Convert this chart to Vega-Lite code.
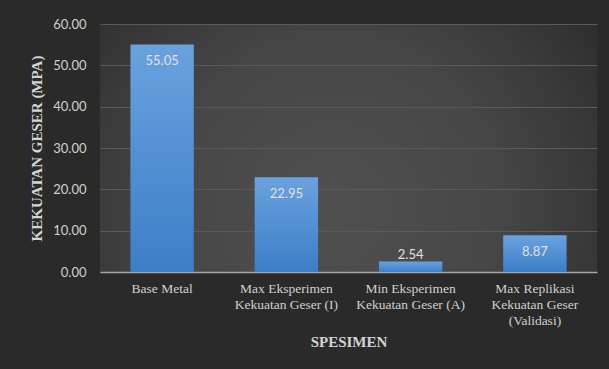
{
  "$schema": "https://vega.github.io/schema/vega-lite/v6.json",
  "width": 497,
  "height": 248,
  "autosize": {"type": "none"},
  "padding": {"left": 100, "top": 24, "right": 12, "bottom": 97},
  "background": "#2a2a2a",
  "config": {
    "view": {
      "stroke": null,
      "fill": {
        "gradient": "radial",
        "x1": 0.47, "y1": 0.62, "r1": 0,
        "x2": 0.47, "y2": 0.62, "r2": 0.65,
        "stops": [
          {"offset": 0, "color": "#505050"},
          {"offset": 0.5, "color": "#474747"},
          {"offset": 1, "color": "#2e2e2e"}
        ]
      }
    }
  },
  "data": {
    "values": [
      {"spesimen": "Base Metal", "kekuatan": 55.05},
      {"spesimen": "Max Eksperimen Kekuatan Geser (I)", "kekuatan": 22.95},
      {"spesimen": "Min Eksperimen Kekuatan Geser (A)", "kekuatan": 2.54},
      {"spesimen": "Max Replikasi Kekuatan Geser (Validasi)", "kekuatan": 8.87}
    ]
  },
  "encoding": {
    "x": {
      "field": "spesimen",
      "type": "nominal",
      "sort": null,
      "scale": {"paddingInner": 0.49, "paddingOuter": 0.245},
      "axis": {
        "title": "SPESIMEN",
        "titleFont": "Liberation Serif",
        "titleFontSize": 15,
        "titleFontWeight": "bold",
        "titleColor": "#d4d4d4",
        "titlePadding": 8,
        "labelFont": "Liberation Serif",
        "labelFontSize": 13.5,
        "labelColor": "#d0d0d0",
        "labelAngle": 0,
        "labelPadding": 9,
        "labelLineHeight": 16,
        "labelExpr": "split(replace(replace(datum.value, ' Kekuatan', '|Kekuatan'), ' (Validasi)', '|(Validasi)'), '|')",
        "ticks": false,
        "domainColor": "#a6a6a6",
        "domainWidth": 1.5,
        "grid": false
      }
    },
    "y": {
      "field": "kekuatan",
      "type": "quantitative",
      "scale": {"domain": [0, 60]},
      "axis": {
        "title": "KEKUATAN GESER (MPA)",
        "titleFont": "Liberation Serif",
        "titleFontSize": 15,
        "titleFontWeight": "bold",
        "titleColor": "#d4d4d4",
        "titlePadding": 8,
        "values": [0, 10, 20, 30, 40, 50, 60],
        "format": ".2f",
        "labelFont": "Lato",
        "labelFontSize": 13,
        "labelColor": "#d0d0d0",
        "labelPadding": 14,
        "ticks": false,
        "domain": false,
        "grid": true,
        "gridColor": "#5a5a5a",
        "gridWidth": 1
      }
    }
  },
  "layer": [
    {
      "mark": {
        "type": "bar",
        "color": {
          "gradient": "linear",
          "x1": 0, "y1": 0, "x2": 0, "y2": 1,
          "stops": [
            {"offset": 0, "color": "#6aa2de"},
            {"offset": 1, "color": "#3c7ec8"}
          ]
        }
      }
    },
    {
      "transform": [{"filter": "datum.kekuatan >= 5"}],
      "mark": {"type": "text", "baseline": "middle", "dy": 17, "font": "Lato", "fontSize": 13, "color": "#e0e0e0"},
      "encoding": {"text": {"field": "kekuatan", "type": "quantitative", "format": ".2f"}}
    },
    {
      "transform": [{"filter": "datum.kekuatan < 5"}],
      "mark": {"type": "text", "baseline": "middle", "dy": -7, "font": "Lato", "fontSize": 13, "color": "#e0e0e0"},
      "encoding": {"text": {"field": "kekuatan", "type": "quantitative", "format": ".2f"}}
    }
  ]
}
